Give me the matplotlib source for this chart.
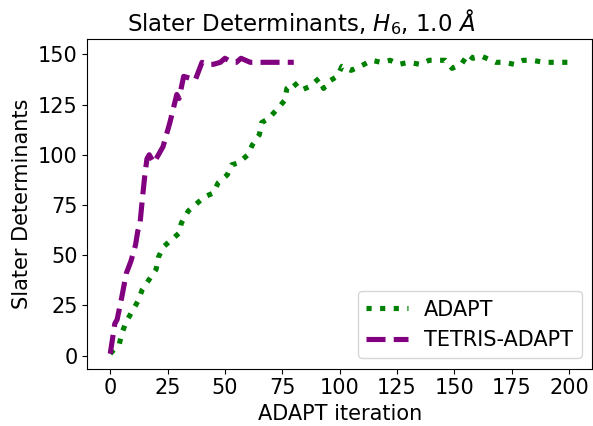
import matplotlib
matplotlib.use("Agg")
import matplotlib.pyplot as plt

# ADAPT: number of Slater determinants vs iteration
adapt_iter = [0, 4, 5, 7, 10, 12, 14, 17, 20, 21, 23, 26, 30, 31, 34, 37, 41, 45, 47,
              51, 53, 56, 60, 62, 65, 66, 69, 73, 76, 77, 80, 83, 87, 91, 93, 96, 99,
              101, 105, 109, 114, 118, 122, 126, 130, 135, 139, 143, 146, 149, 153,
              156, 158, 162, 164, 168, 172, 176, 180, 184, 189, 194, 200]
adapt_dets = [1, 6, 11, 17, 23, 27, 33, 38, 43, 49, 54, 57, 61, 66, 72, 75, 79, 81, 86,
              90, 95, 96, 100, 105, 110, 116, 118, 123, 127, 133, 136, 132, 134, 138, 133, 137, 139,
              144, 142, 144, 147, 146, 147, 145, 146, 145, 147, 147, 147, 143, 145,
              150, 148, 149, 148, 146, 146, 145, 147, 147, 146, 146, 146]

# TETRIS-ADAPT
tetris_iter = [0, 2, 3, 5, 7, 9, 11, 12, 13, 14, 15, 16, 17, 19, 21, 23, 26, 29, 30,
               32, 35, 37, 40, 42, 45, 48, 50, 53, 55, 57, 59, 61, 62, 66, 80]
tetris_dets = [1, 16, 18, 29, 41, 47, 55, 62, 66, 78, 89, 98, 100, 96, 100, 104, 116, 130, 128,
               139, 138, 137, 146, 145, 145, 146, 148, 146, 146, 148, 147, 146, 146, 146, 146]

W, H = 593, 426
fig = plt.figure(figsize=(W / 100, H / 100), dpi=100)
ax = fig.add_axes([87.3 / W, 1 - 368.7 / H, (592 - 87.3) / W, (368.7 - 39.3) / H])

ax.plot(adapt_iter, adapt_dets, color="green", linestyle=":", linewidth=3.7, label="ADAPT")
ax.plot(tetris_iter, tetris_dets, color="purple", linestyle="--", linewidth=3.7, label="TETRIS-ADAPT")

ax.set_xticks([0, 25, 50, 75, 100, 125, 150, 175, 200])
ax.set_yticks([0, 25, 50, 75, 100, 125, 150])
ax.tick_params(labelsize=15)
ax.set_xlabel("ADAPT iteration", fontsize=15)
ax.set_ylabel("Slater Determinants", fontsize=15)
ax.legend(loc="lower right", fontsize=15)

fig.text(301 / W, 1 - 22 / H, r"Slater Determinants, $H_6$, 1.0 $\AA$",
         fontsize=16.5, ha="center", va="center")

fig.savefig("out.png", dpi=100)
